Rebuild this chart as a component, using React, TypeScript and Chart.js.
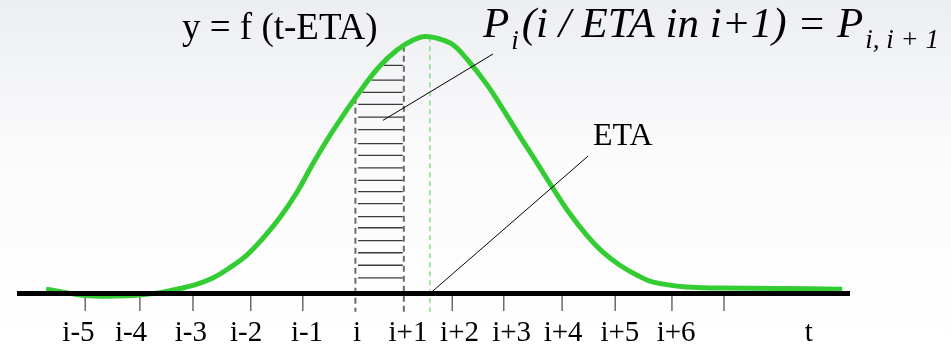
import React, { useEffect, useRef } from "react";
import { Chart, registerables } from "chart.js";

Chart.register(...registerables);

// ---- data (t measured in interval units, i = 0; y = f(t-ETA)) ----
const curveT = [
  -5.94, -5.19, -4.62, -4.14, -3.75, -3.37, -3.04, -2.74, -2.41, -2.08, -1.78, -1.45, -1.12, -0.82,
  -0.49, -0.16, 0.15, 0.47, 0.8, 1.11, 1.34, 1.63, 1.88, 2.14, 2.53, 2.84, 3.16, 3.49, 3.8, 4.12,
  4.45, 4.76, 5.08, 5.41, 5.72, 6.37, 7.0, 8.16, 9.35,
];
const curveY = [
  0.015, -0.007, -0.009, -0.005, 0.003, 0.017, 0.032, 0.053, 0.089, 0.133, 0.189, 0.261, 0.349,
  0.445, 0.543, 0.632, 0.71, 0.782, 0.837, 0.871, 0.883, 0.874, 0.854, 0.806, 0.717, 0.632, 0.54,
  0.448, 0.36, 0.274, 0.199, 0.141, 0.097, 0.063, 0.039, 0.022, 0.019, 0.017, 0.015,
];
const tickLabels = ["i-5", "i-4", "i-3", "i-2", "i-1", "i", "i+1", "i+2", "i+3", "i+4", "i+5", "i+6", "t"];
const labelPositions = [-5.32, -4.31, -3.16, -2.1, -0.93, 0.03, 1.01, 2.0, 3.0, 3.99, 5.08, 6.16, 8.71];
const tickPositions = [-5.19, -4.14, -3.12, -2.01, -1.01, 1.86, 2.85, 3.97, 4.99, 6.08, 7.08];
const intervalBounds = [0, 0.93]; // i, i+1
const etaPosition = 1.43;
const hatchLevels = [
  0.784, 0.733, 0.691, 0.65, 0.606, 0.563, 0.515, 0.475, 0.432, 0.389, 0.35, 0.309, 0.264, 0.226,
  0.182, 0.14, 0.097, 0.054,
];
const axisRange = [-6.5, 9.5];
const pLeader = [
  [0.53, 0.595],
  [2.643, 0.823],
];
const etaLeader = [
  [1.433, 0],
  [4.468, 0.472],
];
const titleText = "y = f (t-ETA)";
const etaText = "ETA";

// ---- helpers ----
const curveAt = (t: number) => {
  for (let k = 0; k < curveT.length - 1; k++) {
    if (t >= curveT[k] && t <= curveT[k + 1]) {
      const f = (t - curveT[k]) / (curveT[k + 1] - curveT[k]);
      return curveY[k] + f * (curveY[k + 1] - curveY[k]);
    }
  }
  return 0;
};
const risingTAt = (y: number) => {
  for (let k = 0; k < curveT.length - 1; k++) {
    if (curveY[k] <= y && curveY[k + 1] >= y && curveT[k] > -3) {
      const f = (y - curveY[k]) / (curveY[k + 1] - curveY[k]);
      return curveT[k] + f * (curveT[k + 1] - curveT[k]);
    }
  }
  return curveT[0];
};

const SERIF = '"Liberation Serif", "DejaVu Serif", serif';

export default function App() {
  const ref = useRef<HTMLCanvasElement | null>(null);

  useEffect(() => {
    if (!ref.current) return;
    const below = -0.063;
    const tickTop = -0.0085;
    const tickBottom = -0.06;

    const ticksData: any[] = [];
    tickPositions.forEach((t) => {
      ticksData.push({ x: t, y: tickTop }, { x: t, y: tickBottom }, { x: t, y: null });
    });

    const hatchData: any[] = [];
    hatchLevels.forEach((lv) => {
      const left = Math.max(intervalBounds[0] + 0.05, risingTAt(lv) + 0.06);
      hatchData.push({ x: left, y: lv }, { x: intervalBounds[1] - 0.02, y: lv }, { x: left, y: null });
    });

    const boundsData: any[] = [];
    intervalBounds.forEach((b) => {
      boundsData.push({ x: b, y: curveAt(b) }, { x: b, y: below }, { x: b, y: null });
    });

    const bg = {
      id: "bg",
      beforeDraw(chart: any) {
        const { ctx, width, height } = chart;
        ctx.save();
        const g = ctx.createLinearGradient(0, 0, 0, height);
        g.addColorStop(0, "#eceef1");
        g.addColorStop(0.45, "#fbfbfc");
        g.addColorStop(1, "#ffffff");
        ctx.fillStyle = g;
        ctx.fillRect(0, 0, width, height);
        ctx.restore();
      },
    };

    const texts = {
      id: "texts",
      afterDraw(chart: any) {
        const { ctx } = chart;
        const xs = chart.scales.x;
        const ys = chart.scales.y;
        ctx.save();
        ctx.fillStyle = "#000";
        ctx.textBaseline = "alphabetic";

        // tick labels
        ctx.font = `29px ${SERIF}`;
        ctx.textAlign = "center";
        const lblY = ys.getPixelForValue(-0.162);
        tickLabels.forEach((l, k) => {
          ctx.fillText(l, xs.getPixelForValue(labelPositions[k]), lblY);
        });

        ctx.textAlign = "left";
        // function title
        ctx.font = `37px ${SERIF}`;
        ctx.fillText(titleText, xs.getPixelForValue(-3.331), ys.getPixelForValue(0.874));

        // ETA label
        ctx.font = `32px ${SERIF}`;
        ctx.fillText(etaText, xs.getPixelForValue(4.564), ys.getPixelForValue(0.5094));

        // probability formula
        let x = xs.getPixelForValue(2.451);
        const base = ys.getPixelForValue(0.881);
        const big = `italic 43px ${SERIF}`;
        const sub = `italic 27px ${SERIF}`;
        const parts: [string, string, number][] = [
          ["P", big, 0],
          ["i", sub, 12],
          ["(i / ETA in i+1) = P", big, 0],
          ["i, i + 1", sub, 11],
        ];
        parts.forEach(([s, f, dy]) => {
          ctx.font = f;
          ctx.fillText(s, x, base + dy);
          x += ctx.measureText(s).width + (dy ? 3 : 2);
        });
        ctx.restore();
      },
    };

    const common = { pointRadius: 0, pointHoverRadius: 0, fill: false, clip: false as any, tension: 0 };

    const chart = new Chart(ref.current, {
      type: "line",
      data: {
        datasets: [
          {
            ...common,
            label: "axis",
            data: [
              { x: axisRange[0], y: 0 },
              { x: axisRange[1], y: 0 },
            ],
            borderColor: "#000",
            borderWidth: 5,
            borderCapStyle: "butt",
            order: 0,
          },
          {
            ...common,
            label: "f",
            data: curveT.map((t, k) => ({ x: t, y: curveY[k] })),
            borderColor: "#33cc33",
            borderWidth: 5,
            tension: 0.4,
            order: 1,
          },
          {
            ...common,
            label: "ticks",
            data: ticksData,
            borderColor: "#555",
            borderWidth: 1.3,
            spanGaps: false,
            order: 2,
          },
          {
            ...common,
            label: "hatch",
            data: hatchData,
            borderColor: "#3a3a3a",
            borderWidth: 1.3,
            spanGaps: false,
            order: 3,
          },
          {
            ...common,
            label: "bounds",
            data: boundsData,
            borderColor: "#6b6b6b",
            borderWidth: 2,
            borderDash: [6, 4],
            spanGaps: false,
            order: 3,
          },
          {
            ...common,
            label: "eta",
            data: [
              { x: etaPosition, y: curveAt(etaPosition) },
              { x: etaPosition, y: below },
            ],
            borderColor: "#8fe08f",
            borderWidth: 1.6,
            borderDash: [5, 4],
            order: 3,
          },
          {
            ...common,
            label: "pLeader",
            data: pLeader.map(([x, y]) => ({ x, y })),
            borderColor: "#000",
            borderWidth: 1,
            order: 0.5,
          },
          {
            ...common,
            label: "etaLeader",
            data: etaLeader.map(([x, y]) => ({ x, y })),
            borderColor: "#000",
            borderWidth: 1,
            order: 0.5,
          },
        ],
      },
      options: {
        responsive: false,
        animation: false,
        devicePixelRatio: 1,
        events: [],
        layout: { padding: { left: 17, right: 101, top: 0, bottom: 52.5 } },
        plugins: { legend: { display: false }, tooltip: { enabled: false } },
        scales: {
          x: { type: "linear", min: axisRange[0], max: axisRange[1], display: false },
          y: { type: "linear", min: 0, max: 1, display: false },
        },
      },
      plugins: [bg, texts],
    });

    let alive = true;
    const fonts = (document as any).fonts;
    if (fonts && fonts.load) {
      Promise.all([
        fonts.load('29px "Liberation Serif"'),
        fonts.load('italic 43px "Liberation Serif"'),
      ])
        .then(() => {
          if (alive) chart.update("none");
        })
        .catch(() => {});
    }
    return () => {
      alive = false;
      chart.destroy();
    };
  }, []);

  return (
    <div style={{ position: "fixed", left: 0, top: 0, width: 951, height: 346 }}>
      <span style={{ position: "absolute", left: -9999, fontFamily: '"Liberation Serif"' }}>
        .<i>.</i>
      </span>
      <canvas ref={ref} width={951} height={346} style={{ display: "block" }} />
    </div>
  );
}
